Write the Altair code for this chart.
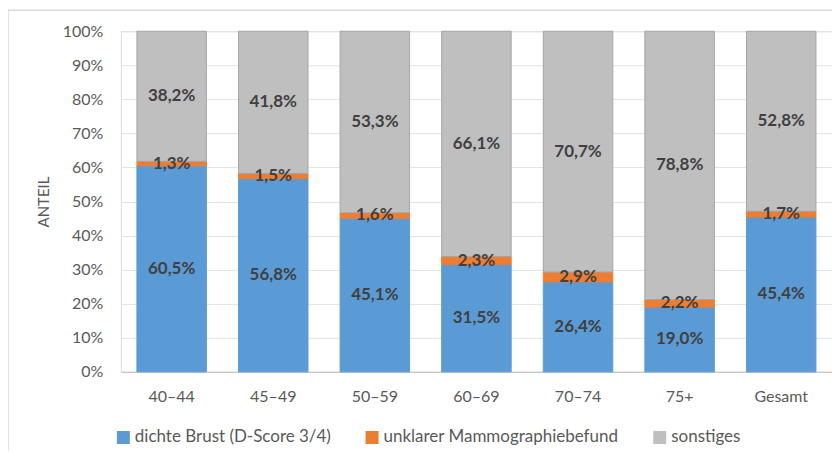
import altair as alt
import pandas as pd

groups = ["40–44", "45–49", "50–59", "60–69", "70–74", "75+", "Gesamt"]
series = ["dichte Brust (D-Score 3/4)", "unklarer Mammographiebefund", "sonstiges"]
dichte = [60.5, 56.8, 45.1, 31.5, 26.4, 19.0, 45.4]
unklar = [1.3, 1.5, 1.6, 2.3, 2.9, 2.2, 1.7]
sonst = [38.2, 41.8, 53.3, 66.1, 70.7, 78.8, 52.8]
fill_colors = ["#5b9bd5", "#ed7d31", "#bfbfbf"]
stroke_colors = ["#5b9bd5", "#ed7d31", "#a5a5a5"]
y_ticks = [0, 0.1, 0.2, 0.3, 0.4, 0.5, 0.6, 0.7, 0.8, 0.9, 1.0]

rows = []
for i, g in enumerate(groups):
    for j, (s, vals) in enumerate(zip(series, [dichte, unklar, sonst])):
        v = vals[i]
        rows.append({
            "Gruppe": g,
            "Serie": s,
            "order": j,
            "Wert": v,
            "Label": f"{v:.1f}".replace(".", ",") + "%",
        })
df = pd.DataFrame(rows)

FONT = "Lato"
TXT = "#595959"

base = (
    alt.Chart(df)
    .transform_stack(
        stack="Wert",
        groupby=["Gruppe"],
        as_=["y0", "y1"],
        offset="normalize",
        sort=[alt.SortField("order", order="ascending")],
    )
    .transform_calculate(mid="(datum.y0 + datum.y1) / 2")
)

x_scale = alt.Scale(paddingInner=0.316, paddingOuter=0.158)
x_axis = alt.Axis(
    title=None,
    labelAngle=0,
    ticks=False,
    domainColor="#bfbfbf",
    domainWidth=1,
    labelPadding=25,
    labelBaseline="middle",
    labelFontSize=16,
    labelColor=TXT,
    labelFont=FONT,
)
y_scale = alt.Scale(domain=[0, 1])
y_axis = alt.Axis(
    format=".0%",
    values=y_ticks,
    labelOverlap=False,
    title="ANTEIL",
    domain=False,
    ticks=False,
    gridColor="#e3e3e3",
    gridWidth=1,
    labelPadding=18,
    labelFontSize=16,
    labelColor=TXT,
    labelFont=FONT,
    titleFont=FONT,
    titleFontSize=15,
    titleFontWeight="normal",
    titleColor=TXT,
    titleAngle=270,
    titleX=-77,
    titleY=170.5,
    titleAlign="center",
    titleBaseline="middle",
)

bars = base.mark_bar(strokeWidth=1).encode(
    x=alt.X("Gruppe:N", sort=groups, scale=x_scale, axis=x_axis),
    y=alt.Y("y0:Q", scale=y_scale, axis=y_axis),
    y2="y1:Q",
    color=alt.Color(
        "Serie:N",
        sort=series,
        scale=alt.Scale(domain=series, range=fill_colors),
        legend=alt.Legend(
            title=None,
            orient="none",
            legendX=-6,
            legendY=398,
            direction="horizontal",
            symbolType="square",
            symbolSize=169,
            symbolStrokeWidth=0,
            labelFontSize=17,
            labelFont=FONT,
            labelColor=TXT,
            labelOffset=3,
            labelLimit=0,
            columnPadding=32,
            padding=0,
        ),
    ),
    stroke=alt.Stroke(
        "Serie:N",
        sort=series,
        scale=alt.Scale(domain=series, range=stroke_colors),
        legend=None,
    ),
)

labels = base.mark_text(
    font=FONT, fontWeight="bold", fontSize=17, color="#404040", baseline="middle"
).encode(
    x=alt.X("Gruppe:N", sort=groups, scale=x_scale, axis=x_axis),
    y=alt.Y("mid:Q", scale=y_scale, axis=y_axis),
    text="Label:N",
)

frame = (
    alt.Chart(pd.DataFrame({"f": [0]}))
    .mark_rect(fillOpacity=0, stroke="#d9d9d9", strokeWidth=1.5)
    .encode(
        x=alt.value(-113),
        x2=alt.value(1000),
        y=alt.value(-21),
        y2=alt.value(1000),
    )
)

chart = (
    alt.layer(frame, bars, labels)
    .properties(
        width=712,
        height=341,
        autosize=alt.AutoSizeParams(type="none"),
        padding={"left": 113, "top": 23, "right": 0, "bottom": 79},
    )
    .configure_view(stroke=None)
    .configure(font=FONT)
)

chart.save("out.html", embed_options={"renderer": "svg", "actions": False})
